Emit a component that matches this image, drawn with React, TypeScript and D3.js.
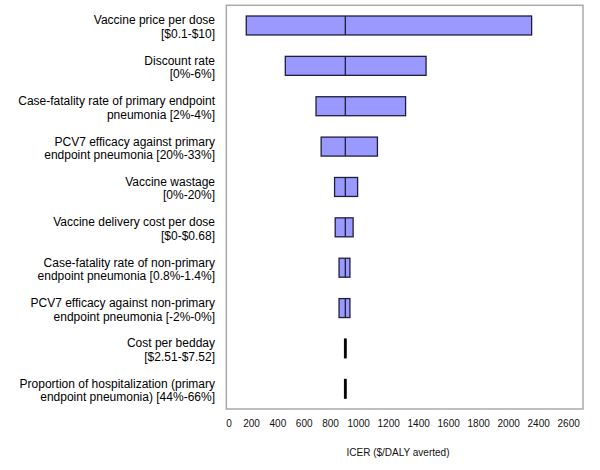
import React from "react";
import * as d3 from "d3";

const labelLine1 = [
  "Vaccine price per dose",
  "Discount rate",
  "Case-fatality rate of primary endpoint",
  "PCV7 efficacy against primary",
  "Vaccine wastage",
  "Vaccine delivery cost per dose",
  "Case-fatality rate of non-primary",
  "PCV7 efficacy against non-primary",
  "Cost per bedday",
  "Proportion of hospitalization (primary",
];
const labelLine2 = [
  "[$0.1-$10]",
  "[0%-6%]",
  "pneumonia [2%-4%]",
  "endpoint pneumonia [20%-33%]",
  "[0%-20%]",
  "[$0-$0.68]",
  "endpoint pneumonia [0.8%-1.4%]",
  "endpoint pneumonia [-2%-0%]",
  "[$2.51-$7.52]",
  "endpoint pneumonia) [44%-66%]",
];
const lowValues = [135, 440, 680, 720, 825, 830, 860, 860, 902, 902];
const highValues = [2365, 1540, 1380, 1160, 1005, 970, 945, 945, 916, 916];
const baseValue = 909;
const tickLabels = ["0", "200", "400", "600", "800", "1000", "1200", "1400", "1600", "1800", "2000", "2400", "2600"];
const axisTitle = "ICER ($/DALY averted)";

const W = 600;
const H = 470;
const frame = { left: 226.3, top: 5.3, right: 583, bottom: 409 };
const FONT = "'Liberation Sans', Arial, Helvetica, sans-serif";

export default function App() {
  const x = d3.scaleLinear().domain([0, 2600]).range([229, 561.7]);
  const idx = labelLine1.map((_, i) => i);
  const padding = 0.53;
  const y = d3
    .scaleBand<number>()
    .domain(idx)
    .range([frame.top, frame.bottom])
    .paddingInner(padding)
    .paddingOuter(padding / 2);

  // flowing tick label layout (labels are spaced like a line of text)
  const tickCenters: number[] = [];
  tickLabels.forEach((t, i) => {
    if (i === 0) tickCenters.push(x(0));
    else {
      const prev = tickLabels[i - 1];
      tickCenters.push(tickCenters[i - 1] + 15.2 + 3.7 * (prev.length + t.length) / 2);
    }
  });

  return (
    <svg
      width={W}
      height={H}
      style={{ position: "absolute", left: 0, top: 0, display: "block", background: "#fff" }}
      fontFamily={FONT}
    >
      <rect
        x={frame.left}
        y={frame.top}
        width={frame.right - frame.left}
        height={frame.bottom - frame.top}
        fill="none"
        stroke="#aaaaaa"
        strokeWidth={1.5}
      />
      {idx.map((i) => {
        const y0 = y(i)!;
        const bw = y.bandwidth();
        const cy = y0 + bw / 2;
        const lo = lowValues[i];
        const hi = highValues[i];
        const isLine = hi - lo < 30;
        return (
          <g key={i}>
            <text x={215} y={cy - 1} textAnchor="end" fontSize={12} fill="#000">
              {labelLine1[i]}
            </text>
            <text x={215} y={cy + 12.5} textAnchor="end" fontSize={12} fill="#000">
              {labelLine2[i]}
            </text>
            {isLine ? (
              <rect x={x(lo)} y={y0} width={x(hi) - x(lo)} height={bw} fill="#000" stroke="#000" strokeWidth={1} />
            ) : (
              <>
                <rect
                  x={x(lo)}
                  y={y0}
                  width={x(hi) - x(lo)}
                  height={bw}
                  fill="#9999ff"
                  stroke="#1f1f3a"
                  strokeWidth={1.3}
                />
                <line x1={x(baseValue)} x2={x(baseValue)} y1={y0} y2={y0 + bw} stroke="#1f1f3a" strokeWidth={1.3} />
              </>
            )}
          </g>
        );
      })}
      <text fontSize={10} fill="#111" y={426.5}>
        {tickLabels.map((t, i) => (
          <tspan key={t} x={tickCenters[i]} textAnchor="middle">
            {t}
          </tspan>
        ))}
      </text>
      <text x={398} y={455.5} textAnchor="middle" fontSize={10} fill="#111">
        {axisTitle}
      </text>
    </svg>
  );
}
